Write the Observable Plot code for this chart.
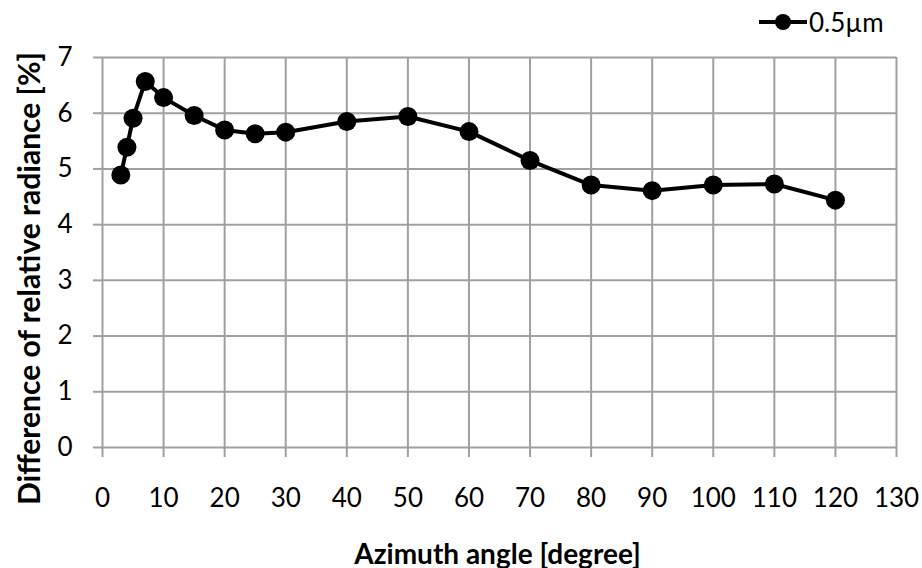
<!DOCTYPE html>
<html>
<head>
<meta charset="utf-8">
<script src="https://cdn.jsdelivr.net/npm/d3@7"></script>
<script src="https://cdn.jsdelivr.net/npm/@observablehq/plot@0.6"></script>
<style>
  html, body { margin: 0; padding: 0; background: #fff; }
  #wrap { position: relative; width: 922px; height: 568px; font-family: Lato, "Open Sans", sans-serif; }
  #legend { position: absolute; left: 757px; top: 6px; display: flex; align-items: center; font-size: 26px; color: #000; }
  #legend svg { display: block; }
</style>
</head>
<body>
<div id="wrap">
  <div id="chart"></div>
  <div id="legend"><svg width="52" height="30"><line x1="2" y1="15" x2="50" y2="15" stroke="#000" stroke-width="4"/><circle cx="26" cy="15" r="8" fill="#000"/></svg><span>0.5µm</span></div>
</div>
<script>
const seriesName = "0.5µm";
const azimuth = [3, 4, 5, 7, 10, 15, 20, 25, 30, 40, 50, 60, 70, 80, 90, 100, 110, 120];
const difference = [4.89, 5.39, 5.91, 6.57, 6.28, 5.96, 5.70, 5.63, 5.66, 5.85, 5.94, 5.67, 5.15, 4.71, 4.61, 4.71, 4.73, 4.44];
const xTicks = [0, 10, 20, 30, 40, 50, 60, 70, 80, 90, 100, 110, 120, 130];
const yTicks = [0, 1, 2, 3, 4, 5, 6, 7];
const xTitle = "Azimuth angle [degree]";
const yTitle = "Difference of relative radiance [%]";

const data = azimuth.map((a, i) => ({azimuth: a, value: difference[i]}));
const gridColor = "#a0a0a0";

const chart = Plot.plot({
  width: 922,
  height: 568,
  marginLeft: 102,
  marginRight: 26,
  marginTop: 57,
  marginBottom: 121,
  style: {fontFamily: "Lato, 'Open Sans', sans-serif", color: "#000", background: "#fff"},
  x: {domain: [0, 130]},
  y: {domain: [0, 7]},
  marks: [
    Plot.gridX(xTicks, {stroke: gridColor, strokeOpacity: 1, strokeWidth: 2}),
    Plot.gridY(yTicks, {stroke: gridColor, strokeOpacity: 1, strokeWidth: 2}),
    Plot.axisX(xTicks, {tickSize: 10, tickPadding: 31, stroke: gridColor, strokeWidth: 2, fontSize: 26, tickFormat: d3.format("d"), label: null}),
    Plot.axisY(yTicks, {tickSize: 9, tickPadding: 21, stroke: gridColor, strokeWidth: 2, fontSize: 26, tickFormat: d3.format("d"), label: null}),
    Plot.line(data, {x: "azimuth", y: "value", stroke: "#000", strokeWidth: 4}),
    Plot.dot(data, {x: "azimuth", y: "value", r: 9.5, fill: "#000", stroke: null}),
    Plot.text([xTitle], {frameAnchor: "bottom", text: d => d, dx: -2, dy: 116, textAnchor: "middle", lineAnchor: "bottom", fontSize: 28, fontWeight: "bold", fill: "#000"}),
    Plot.text([yTitle], {frameAnchor: "left", text: d => d, dx: -72, dy: 26, rotate: -90, textAnchor: "middle", lineAnchor: "middle", fontSize: 30, fontWeight: "bold", fill: "#000"})
  ]
});
document.getElementById("chart").appendChild(chart);
</script>
</body>
</html>
